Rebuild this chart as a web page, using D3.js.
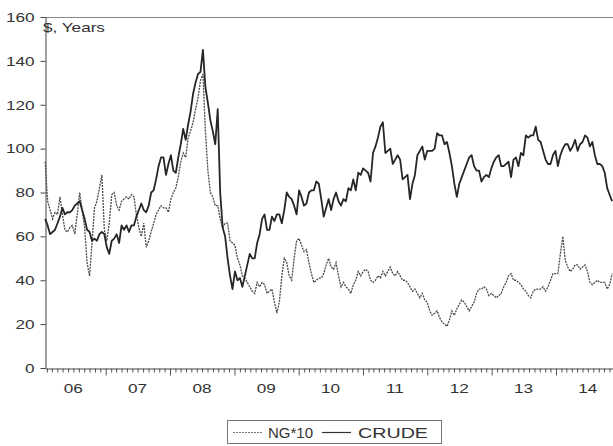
<!DOCTYPE html>
<html>
<head>
<meta charset="utf-8">
<script src="https://cdn.jsdelivr.net/npm/d3@7"></script>
<style>
  body { margin: 0; background: #fff; }
  svg { display: block; }
  text { font-family: "Liberation Sans", Arial, sans-serif; fill: #333; }
</style>
</head>
<body>
<svg id="chart" width="613" height="446"></svg>
<script>
// Bi-weekly observations, first one on 22 Jan 2006, one row per year.
const firstWeek = new Date(2006, 0, 22);
const stepDays = 14;

// WTI crude, $ per barrel
const crude = [
  68, 65, 61, 62, 63, 66, 69, 73, 70, 71, 71, 72, 74, 75, 76, 72, 68, 63, 62, 58, 59, 58, 61, 62, 61, 55,
  52, 58, 59, 61, 57, 65, 63, 65, 62, 65, 65, 69, 72, 75, 72, 71, 74, 80, 81, 86, 92, 96, 96, 88, 93, 97,
  90, 89, 96, 102, 109, 104, 111, 117, 125, 130, 134, 135, 145, 128, 121, 113, 108, 102, 118, 80, 64, 60, 50, 42, 36, 44,
  40, 41, 37, 42, 47, 52, 50, 50, 57, 61, 68, 70, 63, 63, 69, 67, 70, 70, 66, 72, 80, 78, 77, 74, 70, 81,
  78, 74, 75, 80, 81, 81, 85, 84, 77, 69, 73, 77, 72, 77, 80, 76, 74, 77, 76, 82, 81, 86, 81, 89, 88, 91,
  90, 89, 85, 98, 101, 105, 110, 112, 98, 99, 100, 93, 95, 97, 95, 86, 87, 88, 77, 84, 88, 97, 99, 101, 95, 99,
  99, 99, 100, 107, 106, 106, 102, 103, 98, 92, 84, 78, 84, 87, 90, 93, 96, 97, 92, 90, 90, 85, 87, 88, 87, 91,
  94, 96, 97, 92, 92, 93, 94, 87, 95, 96, 92, 98, 97, 106, 105, 106, 106, 110, 104, 103, 99, 95, 93, 93, 97, 99,
  92, 97, 100, 102, 102, 99, 101, 104, 99, 102, 103, 106, 105, 101, 103, 97, 93, 93, 92, 89, 82, 79, 76
];

// Henry Hub natural gas, $ per MMBtu times 10
const ng10 = [
  94, 76, 72, 68, 71, 70, 78, 70, 63, 62, 64, 65, 61, 70, 80, 72, 64, 48, 42, 57, 73, 76, 82, 88, 63, 58,
  66, 79, 80, 74, 72, 76, 77, 78, 77, 79, 78, 70, 64, 60, 66, 55, 58, 62, 66, 70, 72, 74, 73, 73, 71, 77,
  80, 82, 87, 94, 98, 96, 105, 108, 112, 118, 123, 131, 134, 108, 90, 80, 78, 74, 74, 68, 64, 66, 66, 58, 57, 56,
  50, 47, 42, 41, 39, 37, 35, 34, 39, 37, 39, 38, 34, 35, 36, 30, 25, 30, 42, 50, 48, 42, 40, 50, 58, 59,
  56, 53, 54, 48, 43, 39, 40, 41, 41, 43, 47, 50, 46, 45, 48, 42, 37, 39, 37, 36, 34, 38, 40, 44, 42, 44,
  45, 44, 40, 39, 40, 42, 41, 44, 42, 44, 46, 43, 42, 44, 42, 40, 40, 39, 37, 35, 36, 34, 32, 34, 31, 30,
  26, 24, 25, 26, 23, 21, 20, 19, 22, 26, 24, 27, 29, 31, 30, 28, 26, 28, 30, 34, 36, 36, 37, 36, 33, 34,
  33, 32, 33, 34, 37, 39, 42, 43, 40, 40, 39, 38, 36, 35, 33, 32, 35, 36, 36, 36, 37, 35, 37, 40, 43, 43,
  43, 52, 60, 49, 46, 44, 45, 47, 47, 45, 46, 47, 44, 39, 38, 39, 40, 39, 39, 39, 36, 38, 43
];

const seriesNames = ["NG*10", "CRUDE"];
const yTickValues = [0, 20, 40, 60, 80, 100, 120, 140, 160];
const yearLabels = ["06", "07", "08", "09", "10", "11", "12", "13", "14"];
const unitLabel = "$, Years";

const stretch = 1.27; // wide lettering of the labels

const svg = d3.select("#chart");
const x = d3.scaleTime()
  .domain([new Date(2006, 0, 21), new Date(2014, 10, 21)])
  .range([45, 613]);
const y = d3.scaleLinear().domain([0, 160]).range([368, 17]);

const dates = crude.map((_, i) => d3.timeDay.offset(firstWeek, stepDays * i));

// plot frame (top edge)
svg.append("line")
  .attr("x1", 45).attr("x2", 613).attr("y1", 17.5).attr("y2", 17.5)
  .attr("stroke", "#888").attr("stroke-width", 1);

// y axis
const yAxis = svg.append("g")
  .attr("transform", "translate(45.5,0)")
  .call(d3.axisLeft(y).tickValues(yTickValues).tickSize(5).tickSizeOuter(0));
yAxis.select(".domain").attr("stroke", "#444");
yAxis.selectAll(".tick line").attr("stroke", "#444");
yAxis.selectAll(".tick text")
  .attr("x", -11 / stretch)
  .attr("transform", `scale(${stretch},1)`)
  .style("font-size", "13.5px")
  .attr("fill", "#333");

// x axis: monthly minor ticks, yearly major ticks
const months = d3.timeMonth.range(x.domain()[0], x.domain()[1]);
const xAxis = svg.append("g")
  .attr("transform", "translate(0,368.5)")
  .call(d3.axisBottom(x).tickValues(months).tickSize(4).tickSizeOuter(0).tickFormat(""));
xAxis.select(".domain").attr("stroke", "#444");
xAxis.selectAll(".tick line")
  .attr("stroke", "#555")
  .attr("y2", d => d.getMonth() === 0 ? 7 : 4);

// year labels centred on each year
svg.append("g").selectAll("text")
  .data(yearLabels)
  .join("text")
  .attr("transform", (d, i) => `translate(${x(new Date(2006 + i, 6, 1))},393) scale(${stretch},1)`)
  .attr("text-anchor", "middle")
  .style("font-size", "13.5px")
  .text(d => d);

// unit label
svg.append("text")
  .attr("transform", `translate(43,32) scale(${stretch},1)`)
  .style("font-size", "13.5px")
  .text(unitLabel);

// series lines
const line = d3.line()
  .x((d, i) => x(dates[i]))
  .y(d => y(d));

const ngStyle = { stroke: "#4a4a4a", width: 1.3, dash: "2,1" };
const crudeStyle = { stroke: "#262626", width: 1.8, dash: null };

svg.append("path")
  .datum(ng10)
  .attr("d", line)
  .attr("fill", "none")
  .attr("stroke", ngStyle.stroke)
  .attr("stroke-width", ngStyle.width)
  .attr("stroke-dasharray", ngStyle.dash);

svg.append("path")
  .datum(crude)
  .attr("d", line)
  .attr("fill", "none")
  .attr("stroke", crudeStyle.stroke)
  .attr("stroke-width", crudeStyle.width)
  .attr("stroke-linejoin", "round");

// legend
const legend = svg.append("g");
legend.append("rect")
  .attr("x", 227.5).attr("y", 420.5).attr("width", 214).attr("height", 23)
  .attr("fill", "#fff").attr("stroke", "#777");
const legendItems = [
  { name: seriesNames[0], x0: 233, tx: 268, tw: 45, style: { stroke: "#777", width: 1, dash: "2,1" } },
  { name: seriesNames[1], x0: 322, tx: 358, tw: 70, style: { stroke: "#333", width: 1.2, dash: null } }
];
legendItems.forEach(it => {
  legend.append("line")
    .attr("x1", it.x0).attr("x2", it.x0 + 29).attr("y1", 432.5).attr("y2", 432.5)
    .attr("stroke", it.style.stroke).attr("stroke-width", it.style.width)
    .attr("stroke-dasharray", it.style.dash);
  legend.append("text")
    .attr("x", it.tx).attr("y", 438)
    .attr("textLength", it.tw)
    .attr("lengthAdjust", "spacingAndGlyphs")
    .style("font-size", "15.5px")
    .text(it.name);
});
</script>
</body>
</html>
